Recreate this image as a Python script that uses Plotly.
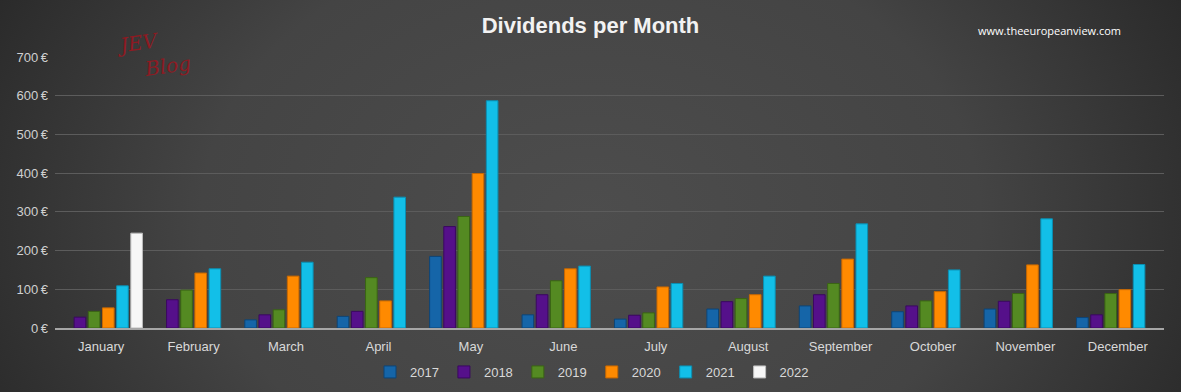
import plotly.graph_objects as go
import base64

months = ["January", "February", "March", "April", "May", "June", "July",
          "August", "September", "October", "November", "December"]
years = ["2017", "2018", "2019", "2020", "2021", "2022"]

div_2017 = [None, None, 21, 30, 185, 34, 23, 49, 57, 42, 49, 27]
div_2018 = [28, 73, 34, 43, 262, 86, 33, 68, 86, 57, 69, 34]
div_2019 = [43, 98, 47, 130, 288, 122, 39, 76, 115, 70, 89, 89]
div_2020 = [52, 142, 134, 70, 399, 153, 106, 86, 178, 94, 163, 99]
div_2021 = [109, 153, 170, 338, 587, 160, 115, 134, 269, 150, 282, 164]
div_2022 = [245, None, None, None, None, None, None, None, None, None, None, None]

series = [div_2017, div_2018, div_2019, div_2020, div_2021, div_2022]
colors = ["#1565a8", "#55108a", "#548a22", "#ff8a00", "#12bfe8", "#f7f7f7"]
edges = ["#0d4577", "#3a0860", "#3a6414", "#c86800", "#0a8fb3", "#bdbdbd"]

W, H = 1181, 392
ml, mr, mt, mb = 55, 17, 57, 64
pw, ph = W - ml - mr, H - mt - mb

svg = f'''<svg xmlns="http://www.w3.org/2000/svg" width="{W}" height="{H}">
<defs><radialGradient id="g" cx="0.5" cy="0.55" r="0.6" gradientTransform="translate(0.5,0.55) scale(1,2.2) translate(-0.5,-0.55)">
<stop offset="0" stop-color="#4d4d4d"/><stop offset="0.55" stop-color="#444444"/><stop offset="1" stop-color="#262626"/></radialGradient></defs>
<rect width="{W}" height="{H}" fill="url(#g)"/></svg>'''
bg_uri = "data:image/svg+xml;base64," + base64.b64encode(svg.encode()).decode()

fig = go.Figure()
for y, vals, c, e in zip(years, series, colors, edges):
    fig.add_trace(go.Bar(x=months, y=vals, name=y,
                         marker=dict(color=c, line=dict(color=e, width=1))))

fig.update_layout(
    width=W, height=H,
    margin=dict(l=ml, r=mr, t=mt, b=mb, autoexpand=False),
    paper_bgcolor="#2a2a2a",
    plot_bgcolor="rgba(0,0,0,0)",
    barmode="group", bargap=0.08, bargroupgap=0.18,
    font=dict(family="Liberation Sans, Arial, sans-serif", color="#d9d9d9", size=12),
    title=dict(text="<b>Dividends per Month</b>", x=0.5, xanchor="center",
               y=1 - 25 / H, yanchor="middle",
               font=dict(size=22, color="#f2f2f2", family="Liberation Sans, Arial, sans-serif")),
    showlegend=True,
    legend=dict(orientation="h", xref="container", yref="container",
                x=592 / W, xanchor="center", y=1 - 372 / H, yanchor="middle",
                font=dict(size=13, color="#d9d9d9"),
                itemwidth=30, traceorder="normal", bgcolor="rgba(0,0,0,0)"),
    images=[dict(source=bg_uri, xref="paper", yref="paper",
                 x=-ml / pw, y=1 + mt / ph, sizex=W / pw, sizey=H / ph,
                 xanchor="left", yanchor="top", sizing="stretch", layer="below")],
    annotations=[
        dict(text="www.theeuropeanview.com", xref="paper", yref="paper",
             x=(1049 - ml) / pw, y=1 + (mt - 31) / ph, xanchor="center", yanchor="middle",
             showarrow=False, font=dict(size=11, color="#ffffff", family="Open Sans, sans-serif")),
        dict(text="JEV", xref="paper", yref="paper",
             x=(138 - ml) / pw, y=1 + (mt - 43) / ph, xanchor="center", yanchor="middle",
             showarrow=False, textangle=-8,
             font=dict(size=20, color="#8e1a22", family="DejaVu Serif", style="italic")),
        dict(text="Blog", xref="paper", yref="paper",
             x=(167 - ml) / pw, y=1 + (mt - 66) / ph, xanchor="center", yanchor="middle",
             showarrow=False, textangle=-8,
             font=dict(size=20, color="#8e1a22", family="DejaVu Serif", style="italic")),
    ],
)

fig.update_xaxes(showgrid=False, showline=True, linecolor="#a6a6a6", linewidth=2,
                 ticks="", tickfont=dict(size=13, color="#d9d9d9"), zeroline=False,
                 ticklabelstandoff=5)
fig.update_yaxes(range=[0, 700], dtick=100, showgrid=True, gridcolor="#5c5c5c",
                 gridwidth=1, zeroline=False, showline=False, ticksuffix="\u2009€",
                 tickfont=dict(size=13, color="#d0d0d0"), ticks="", ticklabelstandoff=6)

fig.write_html("out.html", config={"displayModeBar": False},
               post_script="document.body.style.margin='0';")
